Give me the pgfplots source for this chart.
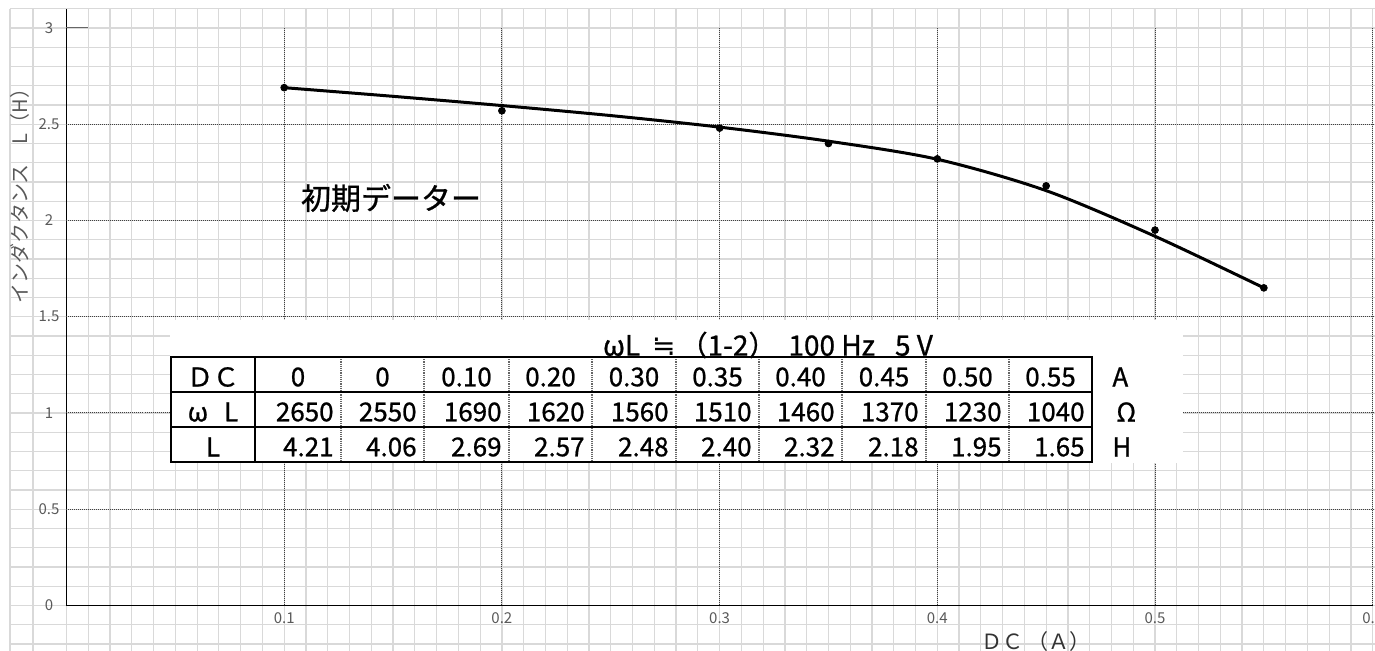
\documentclass[border=0pt]{standalone}
\usepackage{pgfplots}
\pgfplotsset{compat=1.18}
\usepackage{fontspec}
\setmainfont{Noto Sans CJK JP}
\newfontfamily\dejavu{DejaVu Sans}
\newfontfamily\heavy{Noto Sans CJK JP}[FakeBold=0.8]
\tikzset{px/.style={x=0.5pt, y=-0.5pt, shift={(-33.25pt,302.75pt)}}}
\begin{document}
\begin{tikzpicture}
% spreadsheet background grid
\begin{scope}[px, line width=0.6pt, draw=gray!30]
 \foreach \X in {10,33} \draw (\X,8.75) -- (\X,651);
 \foreach \k in {0,...,60} \draw ({66.5+21.77*\k},8.75) -- ({66.5+21.77*\k},651);
 \foreach \j in {-2,...,31} \draw (10,{605.5-19.25*\j}) -- (1375,{605.5-19.25*\j});
\end{scope}
\begin{axis}[
  name=ax, at={(0,0)}, anchor=south west,
  x=1088.5pt, y=96.25pt,
  xmin=0, xmax=0.6, ymin=0, ymax=3.1,
  axis x line=bottom, axis y line=left,
  axis line style={-, black, line width=0.7pt},
  xtick={0.1,0.2,0.3,0.4,0.5,0.6},
  ytick={0,0.5,1,1.5,2,2.5,3},
  major tick length=0pt,
  /pgf/number format/assume math mode=true,
  tick label style={font=\fontsize{7.5}{9}\selectfont, text=black!65},
  yticklabel style={anchor=center, xshift=-8.75pt},
  xticklabel style={anchor=center, yshift=-6.25pt},
  xlabel={ＤＣ （Ａ）},
  ylabel={インダクタンス　L（H）},
  xlabel style={at={(rel axis cs:0.7422,-0.0612)}, anchor=center, font=\fontsize{10.5}{12}\selectfont, text=black!80},
  ylabel style={at={(rel axis cs:-0.0356,0.6946)}, anchor=center, font=\fontsize{10}{12}\selectfont, text=black!65},
  clip=false,
]
\pgfplotsinvokeforeach{0.1,0.2,0.3,0.4,0.5,0.6}{
  \draw[black!75, line width=0.5pt, dash pattern=on 0.5pt off 0.5pt] (axis cs:#1,0) -- (axis cs:#1,3);
}
\pgfplotsinvokeforeach{0.5,1,1.5,2,2.5}{
  \draw[black!75, line width=0.5pt, dash pattern=on 0.5pt off 0.5pt] (axis cs:0,#1) -- (axis cs:0.6,#1);
}
\draw[black!60, line width=0.5pt] (axis cs:0,3) -- (axis cs:0.01,3);
% trend curve
\addplot[smooth, black, line width=1.5pt] coordinates {
 (0.1,2.69) (0.15,2.645) (0.2,2.597) (0.25,2.545) (0.3,2.485)
 (0.35,2.412) (0.4,2.318) (0.45,2.155) (0.5,1.918) (0.55,1.65)};
% measured points
\addplot[only marks, mark=*, mark size=1.7pt, black] coordinates {
 (0.1,2.69) (0.2,2.57) (0.3,2.48) (0.35,2.40) (0.4,2.32)
 (0.45,2.18) (0.5,1.95) (0.55,1.65)};
\end{axis}
\begin{scope}[px]
 \node[font=\heavy\fontsize{15}{18}\selectfont] at (391,198) {初期データー};
 \fill[white] (170,320) rectangle (1183,463);
 \node[font=\heavy\fontsize{14}{16}\selectfont, inner sep=0pt] at (768,345) {ωL\hspace{6pt}{\dejavu\fontsize{14}{16}\selectfont ≒}\hspace{2pt}（1-2）\hspace{6pt}100 Hz\hspace{10pt}5 V};
 \foreach \X in {341,424,509,592,676,759,842,926,1009}
   \draw[black!60, line width=0.9pt, dash pattern=on 0.6pt off 0.5pt] (\X,357) -- (\X,462);
 \draw[line width=1pt] (171,357) rectangle (1092,462);
 \draw[line width=1pt] (171,392) -- (1092,392) (171,427) -- (1092,427) (255,357) -- (255,462);
 \begin{scope}[every node/.style={font=\heavy\fontsize{13}{15}\selectfont, inner sep=0pt}]
  \node at (213,377) {ＤＣ};
  \node at (213,412) {ω\hspace{8pt}L};
  \node at (213,447) {L};
  \foreach \v/\l/\r in {0/255/341, 0/341/424, 0.10/424/509, 0.20/509/592, 0.30/592/676, 0.35/676/759, 0.40/759/842, 0.45/842/926, 0.50/926/1009, 0.55/1009/1092}
    \node at ({(\l+\r)/2},377) {\v};
  \foreach \v/\r in {2650/341, 2550/424, 1690/509, 1620/592, 1560/676, 1510/759, 1460/842, 1370/926, 1230/1009, 1040/1092}
    \node[anchor=east] at ({\r-7},412) {\v};
  \foreach \v/\r in {4.21/341, 4.06/424, 2.69/509, 2.57/592, 2.48/676, 2.40/759, 2.32/842, 2.18/926, 1.95/1009, 1.65/1092}
    \node[anchor=east] at ({\r-7},447) {\v};
  \node[anchor=west] at (1112,377) {A};
  \node[anchor=west] at (1116,412) {Ω};
  \node[anchor=west] at (1112,447) {H};
 \end{scope}
\end{scope}
\pgfresetboundingbox
\path[use as bounding box, px] (0,0) rectangle (1375,651);
\end{tikzpicture}
\end{document}
